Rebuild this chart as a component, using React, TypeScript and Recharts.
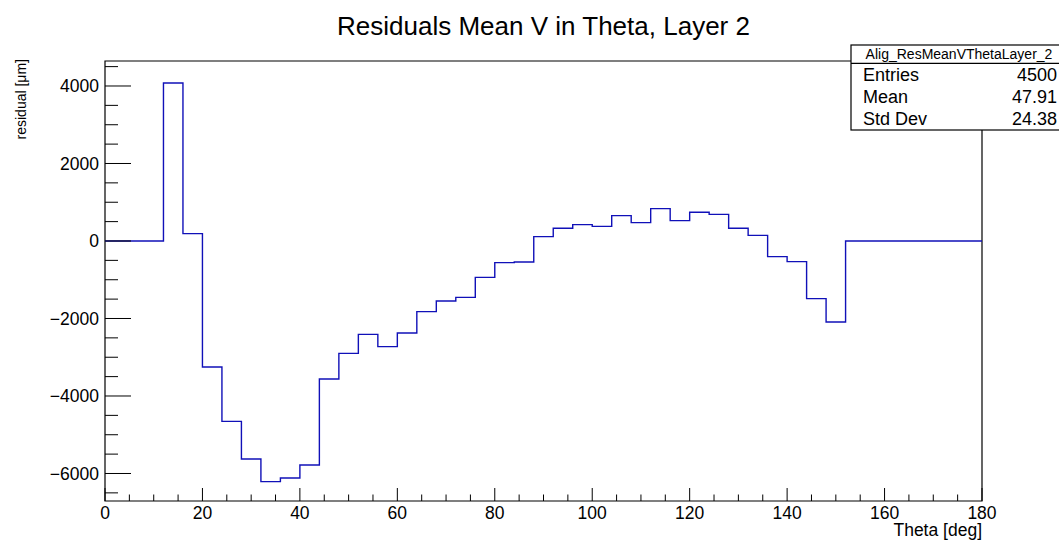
import React from 'react';
import { ComposedChart, Line, XAxis, YAxis, ReferenceArea } from 'recharts';

// ---- data ----
const binLowEdges = [0, 4, 8, 12, 16, 20, 24, 28, 32, 36, 40, 44, 48, 52, 56, 60, 64, 68, 72, 76, 80, 84, 88, 92, 96, 100, 104, 108, 112, 116, 120, 124, 128, 132, 136, 140, 144, 148, 152, 156, 160, 164, 168, 172, 176];
const axisUpperEdge = 180;
const residuals = [0, 0, 0, 4077, 189, -3252, -4654, -5626, -6211, -6116, -5781, -3561, -2899, -2409, -2727, -2374, -1824, -1548, -1454, -938, -559, -542, 112, 327, 422, 378, 654, 473, 835, 525, 740, 688, 327, 146, -404, -533, -1488, -2090, 0, 0, 0, 0, 0, 0, 0];

const xTicks = [0, 5, 10, 15, 20, 25, 30, 35, 40, 45, 50, 55, 60, 65, 70, 75, 80, 85, 90, 95, 100, 105, 110, 115, 120, 125, 130, 135, 140, 145, 150, 155, 160, 165, 170, 175, 180];
const xMajorTicks = [0, 20, 40, 60, 80, 100, 120, 140, 160, 180];
const yTicks = [-6500, -6000, -5500, -5000, -4500, -4000, -3500, -3000, -2500, -2000, -1500, -1000, -500, 0, 500, 1000, 1500, 2000, 2500, 3000, 3500, 4000, 4500];
const yMajorTicks = [-6000, -4000, -2000, 0, 2000, 4000];
const yDomain: [number, number] = [-6710, 4645];

const titleText = 'Residuals Mean V in Theta, Layer 2';
const xTitle = 'Theta [deg]';
const yTitle = 'residual [\u03bcm]';
const statsName = 'Alig_ResMeanVThetaLayer_2';
const statsLabels = ['Entries', 'Mean', 'Std Dev'];
const statsValues = ['4500', '47.91', '24.38'];

const histData = binLowEdges
  .map((edge, i) => ({ theta: edge, value: residuals[i] }))
  .concat([{ theta: axisUpperEdge, value: residuals[residuals.length - 1] }]);

const FONT = '"Liberation Sans", Arial, Helvetica, sans-serif';
const W = 1059;
const H = 540;

const fmt = (v: number) => (v < 0 ? '\u2212' + Math.abs(v) : String(v));

const XTick = (props: any) => {
  const { x, y, payload } = props;
  const major = xMajorTicks.includes(payload.value);
  return (
    <g>
      <line x1={x} x2={x} y1={y} y2={y - (major ? 13 : 6.5)} stroke="#000" strokeWidth={1} />
      {major && (
        <text x={x} y={y + 18} textAnchor="middle" fontSize={17.5} fontFamily={FONT} fill="#000">
          {payload.value}
        </text>
      )}
    </g>
  );
};

const YTick = (props: any) => {
  const { x, y, payload } = props;
  const major = yMajorTicks.includes(payload.value);
  return (
    <g>
      <line x1={x} x2={x + (major ? 26 : 13)} y1={y} y2={y} stroke="#000" strokeWidth={1} />
      {major && (
        <text x={x - 6} y={y} dy="0.36em" textAnchor="end" fontSize={17.5} fontFamily={FONT} fill="#000">
          {fmt(payload.value)}
        </text>
      )}
    </g>
  );
};

export default function App() {
  const boxL = 851;
  const boxT = 45;
  const boxR = 1062;
  return (
    <div style={{ position: 'absolute', left: 0, top: 0, width: W, height: H, background: '#fff' }}>
      <ComposedChart
        width={W}
        height={H}
        data={histData}
        margin={{ top: 61, right: 77, bottom: 0, left: 0 }}
      >
        <XAxis
          dataKey="theta"
          type="number"
          domain={[0, 180]}
          ticks={xTicks}
          interval={0}
          height={39}
          tickSize={0}
          tickMargin={0}
          axisLine={false}
          tickLine={false}
          tick={<XTick />}
          allowDataOverflow
        />
        <YAxis
          type="number"
          domain={yDomain}
          ticks={yTicks}
          interval={0}
          width={105}
          tickSize={0}
          tickMargin={0}
          axisLine={false}
          tickLine={false}
          tick={<YTick />}
          allowDataOverflow
        />
        <Line
          dataKey="value"
          type="stepAfter"
          stroke="#1010b8"
          strokeWidth={1.4}
          dot={false}
          activeDot={false}
          isAnimationActive={false}
        />
        <ReferenceArea
          x1={0}
          x2={180}
          y1={yDomain[0]}
          y2={yDomain[1]}
          fill="none"
          stroke="#000"
          strokeWidth={1.2}
          ifOverflow="visible"
        />
      </ComposedChart>
      <svg
        width={W}
        height={H}
        style={{ position: 'absolute', left: 0, top: 0, pointerEvents: 'none' }}
        fontFamily={FONT}
      >
        <text x={543.5} y={35} textAnchor="middle" fontSize={26} fill="#000">
          {titleText}
        </text>
        <text x={982} y={536} textAnchor="end" fontSize={17.5} fill="#000">
          {xTitle}
        </text>
        <text
          x={0}
          y={0}
          transform="translate(26,59) rotate(-90)"
          textAnchor="end"
          fontSize={14}
          fill="#000"
        >
          {yTitle}
        </text>
        <rect x={boxL} y={boxT} width={boxR - boxL} height={130 - boxT} fill="#fff" stroke="#000" strokeWidth={1.2} />
        <line x1={boxL} x2={boxR} y1={63.3} y2={63.3} stroke="#000" strokeWidth={1.2} />
        <text x={959} y={59} textAnchor="middle" fontSize={14} fill="#000">
          {statsName}
        </text>
        {statsLabels.map((lab, i) => (
          <g key={lab}>
            <text x={863} y={80.5 + i * 22} fontSize={18} fill="#000">
              {lab}
            </text>
            <text x={1057} y={80.5 + i * 22} textAnchor="end" fontSize={18} fill="#000">
              {statsValues[i]}
            </text>
          </g>
        ))}
      </svg>
    </div>
  );
}
